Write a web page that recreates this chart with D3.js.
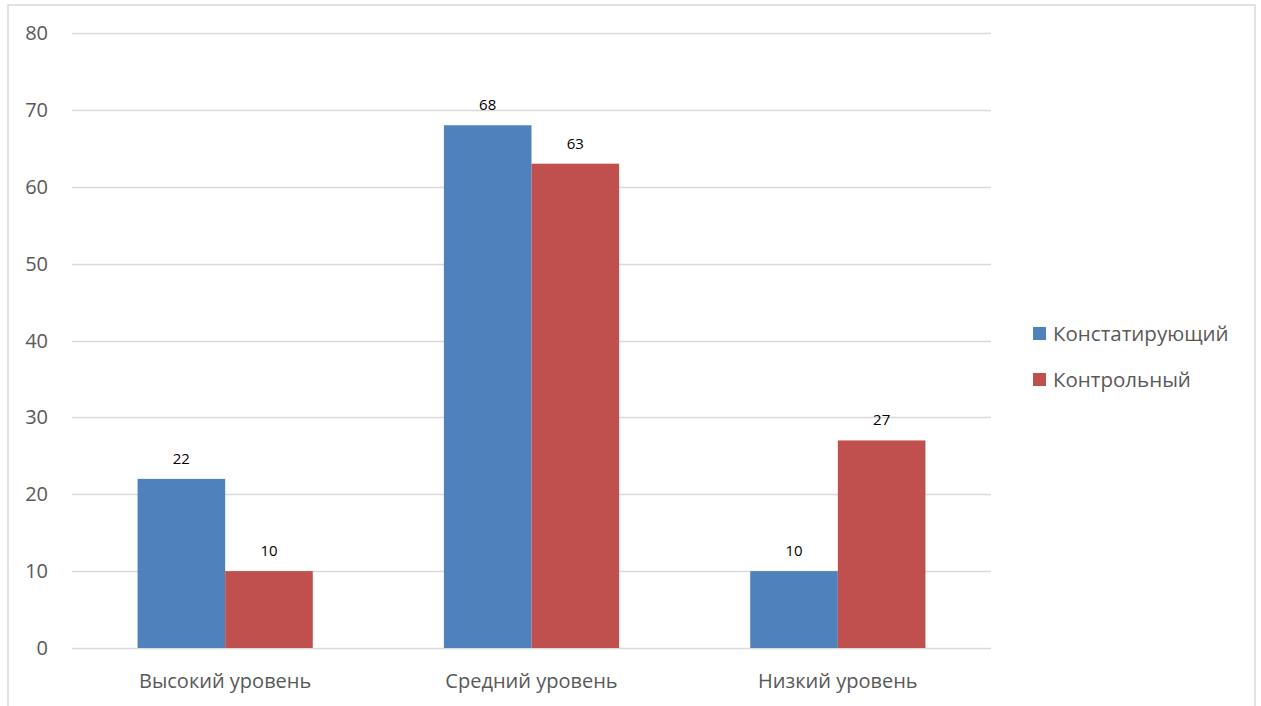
<!DOCTYPE html>
<html><head><meta charset="utf-8">
<script src="https://cdn.jsdelivr.net/npm/d3@7"></script>
<style>body{margin:0;background:#fff;} svg{display:block;}</style>
</head><body>
<svg id="c" width="1261" height="706"></svg>
<script>
const categories = ["Высокий уровень", "Средний уровень", "Низкий уровень"];
const seriesNames = ["Констатирующий", "Контрольный"];
const seriesA = [22, 68, 10];
const seriesB = [10, 63, 27];
const yTicks = [0, 10, 20, 30, 40, 50, 60, 70, 80];
const colors = ["#4f81bd", "#c0504d"];

(function () {
const font = "'Open Sans', 'Noto Sans', sans-serif";
const svg = d3.select("#c");
svg.append("path").attr("d", "M8,706 V5 H1255 V706").attr("fill", "none").attr("stroke", "#d9d9d9").attr("stroke-width", 1.5);

const pL = 72, pR = 991, pT = 33, pB = 648;
const x0 = d3.scaleBand().domain(categories).range([pL, pR]).paddingInner(0.428).paddingOuter(0.214);
const x1 = d3.scaleBand().domain(seriesNames).range([0, x0.bandwidth()]);
const y = d3.scaleLinear().domain([0, 80]).range([pB, pT]);

const g = svg.append("g");
g.selectAll(".grid").data(yTicks).join("line")
  .attr("x1", pL).attr("x2", pR)
  .attr("y1", d => Math.round(y(d)) + 0.5).attr("y2", d => Math.round(y(d)) + 0.5)
  .attr("stroke", "#d9d9d9").attr("stroke-width", 1.5);

g.selectAll(".yt").data(yTicks).join("text")
  .attr("x", 48).attr("y", d => y(d)).attr("dy", "0.35em")
  .attr("text-anchor", "end").attr("font-family", font).attr("font-size", 20).attr("fill", "#595959")
  .text(d => d);

const data = categories.map((c, i) => ({c, vals: [seriesA[i], seriesB[i]]}));
const cg = g.selectAll(".cat").data(data).join("g").attr("transform", d => `translate(${x0(d.c)},0)`);
cg.selectAll("rect").data(d => d.vals.map((v, j) => ({v, s: seriesNames[j], j}))).join("rect")
  .attr("x", d => x1(d.s)).attr("width", x1.bandwidth())
  .attr("y", d => y(d.v)).attr("height", d => y(0) - y(d.v))
  .attr("fill", d => colors[d.j]);
cg.selectAll("text").data(d => d.vals.map((v, j) => ({v, s: seriesNames[j], j}))).join("text")
  .attr("x", d => x1(d.s) + x1.bandwidth() / 2).attr("y", d => y(d.v) - 15)
  .attr("text-anchor", "middle").attr("font-family", font).attr("font-size", 15).attr("fill", "#000")
  .text(d => d.v);

g.selectAll(".xl").data(categories).join("text")
  .attr("x", d => x0(d) + x0.bandwidth() / 2).attr("y", 681).attr("dy", "0.35em")
  .attr("text-anchor", "middle").attr("font-family", font).attr("font-size", 20).attr("fill", "#595959")
  .text(d => d);

const lg = svg.append("g");
seriesNames.forEach((s, i) => {
  const yy = 334 + i * 46;
  lg.append("rect").attr("x", 1033).attr("y", yy - 7).attr("width", 13).attr("height", 13).attr("fill", colors[i]);
  lg.append("text").attr("x", 1053).attr("y", yy).attr("dy", "0.35em").attr("font-family", font)
    .attr("font-size", 20.5).attr("fill", "#595959").text(s);
});
})();
</script>
</body></html>
